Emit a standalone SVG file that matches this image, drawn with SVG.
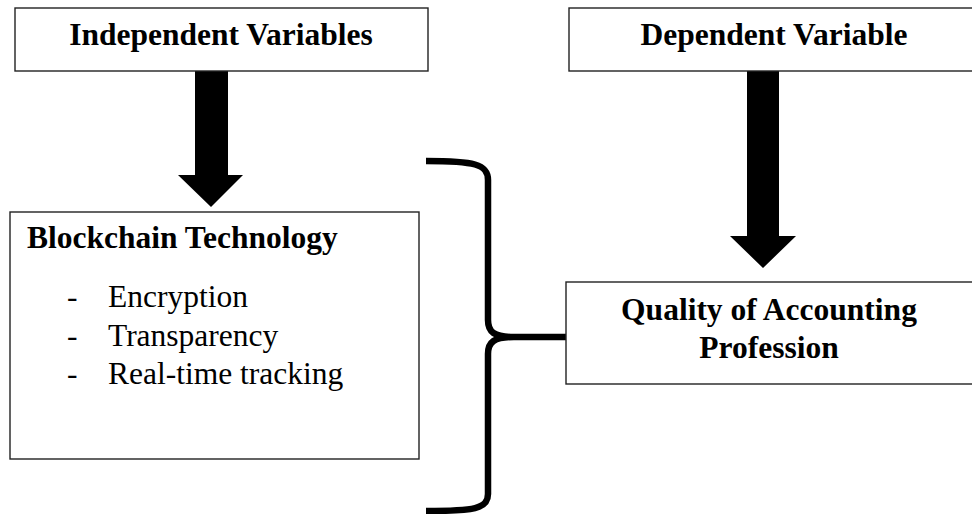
<svg xmlns="http://www.w3.org/2000/svg" width="972" height="514" viewBox="0 0 972 514">
<style>
.box{fill:#fff;stroke:#222;stroke-width:1.4}
.b{font-family:'Liberation Serif','Times New Roman',serif;font-weight:bold;font-size:31.5px;fill:#000}
.r{font-family:'Liberation Serif','Times New Roman',serif;font-size:31.5px;fill:#000}
.arrow{fill:#000}
.brace{fill:none;stroke:#000;stroke-width:6.5;stroke-linejoin:round}
</style>
<rect width="972" height="514" fill="#fff"/>
<g id="connectors">
<polygon class="arrow" points="195,70 228,70 228,175 243,175 211,207 178,175 195,175"/>
<polygon class="arrow" points="747,70 779,70 779,236 796,236 763,268 730,236 747,236"/>
<path class="brace" d="M426,161 C474,161 488,164 488,180 L488,320 C488,332 494,337 514,337 C494,337 488,342 488,354 L488,494 C488,509 474,511 426,511 M506,337 L577,337"/>
</g>
<g id="independent">
<rect class="box" x="15" y="8" width="413" height="63"/>
<text class="b" x="221" y="45" text-anchor="middle">Independent Variables</text>
</g>
<g id="dependent">
<rect class="box" x="569" y="8" width="410" height="63"/>
<text class="b" x="774" y="45" text-anchor="middle">Dependent Variable</text>
</g>
<g id="blockchain">
<rect class="box" x="10" y="212" width="409" height="247"/>
<text class="b" x="27" y="248">Blockchain Technology</text>
<text class="r" x="67" y="307">-</text>
<text class="r" x="108" y="307">Encryption</text>
<text class="r" x="67" y="346">-</text>
<text class="r" x="108" y="346">Transparency</text>
<text class="r" x="67" y="384">-</text>
<text class="r" x="108" y="384">Real-time tracking</text>
</g>
<g id="quality">
<rect class="box" x="566" y="282" width="413" height="102"/>
<text class="b" x="769" y="320" text-anchor="middle">Quality of Accounting</text>
<text class="b" x="769" y="358" text-anchor="middle">Profession</text>
</g>
</svg>
